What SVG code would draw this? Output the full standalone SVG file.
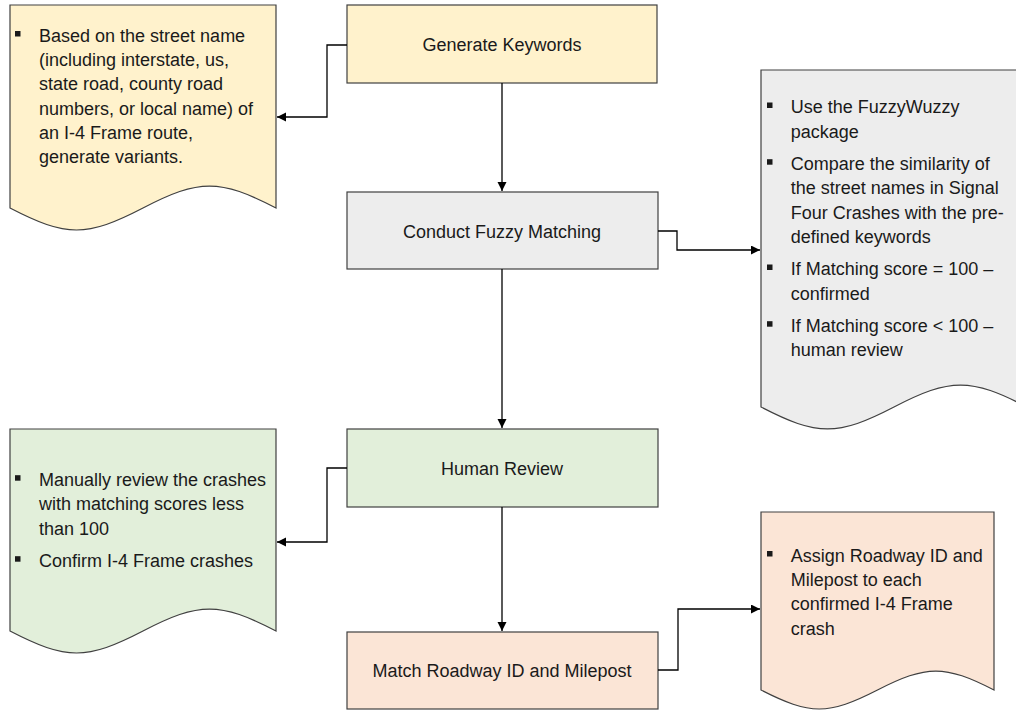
<svg xmlns="http://www.w3.org/2000/svg" width="1016" height="710" viewBox="0 0 1016 710">
<defs>
<style>
.box{stroke:#404040;stroke-width:1.2}
.yel{fill:#FFF2CC}.gry{fill:#EDEDED}.grn{fill:#E2EFDA}.org{fill:#FBE5D6}
.lbl{font-family:"Liberation Sans",Arial,sans-serif;font-size:18px;fill:#1a1a1a;text-anchor:middle}
.txt{font-family:"Liberation Sans",Arial,sans-serif;font-size:18px;fill:#1a1a1a}
.bul{fill:#1a1a1a}
.con{fill:none;stroke:#000;stroke-width:1.3}
</style>
<marker id="arr" markerUnits="userSpaceOnUse" markerWidth="10" markerHeight="10" refX="9" refY="4.5" orient="auto">
<path d="M0,0 L9,4.5 L0,9 Z" fill="#000"/>
</marker>
</defs>
<rect width="1016" height="710" fill="#fff"/>

<g id="doc-keywords">
<path class="box yel" d="M10,5 H276 V208 C219.5,178.7 199.5,178.7 143,208 C86.5,237.3 66.5,237.3 10,208 Z"/>
<rect class="bul" x="15" y="31" width="5.5" height="5.5"/>
<text class="txt" x="39" y="41.7">Based on the street name</text>
<text class="txt" x="39" y="66">(including interstate, us,</text>
<text class="txt" x="39" y="90.3">state road, county road</text>
<text class="txt" x="39" y="114.6">numbers, or local name) of</text>
<text class="txt" x="39" y="138.9">an I-4 Frame route,</text>
<text class="txt" x="39" y="163.2">generate variants.</text>
</g>

<g id="node-generate">
<rect class="box yel" x="347" y="5" width="310" height="78"/>
<text class="lbl" x="502" y="51">Generate Keywords</text>
</g>

<g id="node-fuzzy">
<rect class="box gry" x="347" y="192" width="311" height="77"/>
<text class="lbl" x="502" y="238">Conduct Fuzzy Matching</text>
</g>

<g id="doc-fuzzy">
<path class="box gry" d="M761,70 H1027 V407 C970.5,377.7 950.5,377.7 894,407 C837.5,436.3 817.5,436.3 761,407 Z"/>
<rect class="bul" x="767" y="102.5" width="5.5" height="5.5"/>
<text class="txt" x="790.7" y="113.3">Use the FuzzyWuzzy</text>
<text class="txt" x="790.7" y="137.6">package</text>
<rect class="bul" x="767" y="159.2" width="5.5" height="5.5"/>
<text class="txt" x="790.7" y="170">Compare the similarity of</text>
<text class="txt" x="790.7" y="194.3">the street names in Signal</text>
<text class="txt" x="790.7" y="218.6">Four Crashes with the pre-</text>
<text class="txt" x="790.7" y="242.9">defined keywords</text>
<rect class="bul" x="767" y="264.5" width="5.5" height="5.5"/>
<text class="txt" x="790.7" y="275.3">If Matching score = 100 –</text>
<text class="txt" x="790.7" y="299.6">confirmed</text>
<rect class="bul" x="767" y="321.2" width="5.5" height="5.5"/>
<text class="txt" x="790.7" y="332">If Matching score &lt; 100 –</text>
<text class="txt" x="790.7" y="356.3">human review</text>
</g>

<g id="node-human">
<rect class="box grn" x="347" y="429" width="311" height="78"/>
<text class="lbl" x="502" y="475">Human Review</text>
</g>

<g id="doc-human">
<path class="box grn" d="M10,429 H276 V631 C219.5,601.7 199.5,601.7 143,631 C86.5,660.3 66.5,660.3 10,631 Z"/>
<rect class="bul" x="15" y="475.2" width="5.5" height="5.5"/>
<text class="txt" x="39" y="486">Manually review the crashes</text>
<text class="txt" x="39" y="510.3">with matching scores less</text>
<text class="txt" x="39" y="534.6">than 100</text>
<rect class="bul" x="15" y="556.2" width="5.5" height="5.5"/>
<text class="txt" x="39" y="567">Confirm I-4 Frame crashes</text>
</g>

<g id="node-match">
<rect class="box org" x="347" y="632" width="311" height="77"/>
<text class="lbl" x="502" y="677">Match Roadway ID and Milepost</text>
</g>

<g id="doc-match">
<path class="box org" d="M761,512 H994 V690 C944.6,664.7 927,664.7 877.5,690 C828,715.3 810.4,715.3 761,690 Z"/>
<rect class="bul" x="767" y="551" width="5.5" height="5.5"/>
<text class="txt" x="790.7" y="561.7">Assign Roadway ID and</text>
<text class="txt" x="790.7" y="586">Milepost to each</text>
<text class="txt" x="790.7" y="610.3">confirmed I-4 Frame</text>
<text class="txt" x="790.7" y="634.6">crash</text>
</g>

<g id="connectors">
<path class="con" marker-end="url(#arr)" d="M347,45 H327 V117 H277"/>
<path class="con" marker-end="url(#arr)" d="M502,83 V191"/>
<path class="con" marker-end="url(#arr)" d="M658,231 H677 V250 H760"/>
<path class="con" marker-end="url(#arr)" d="M502,269 V428"/>
<path class="con" marker-end="url(#arr)" d="M347,468 H327 V542 H277"/>
<path class="con" marker-end="url(#arr)" d="M502,507 V631"/>
<path class="con" marker-end="url(#arr)" d="M658,670 H678 V609 H760"/>
</g>
</svg>
